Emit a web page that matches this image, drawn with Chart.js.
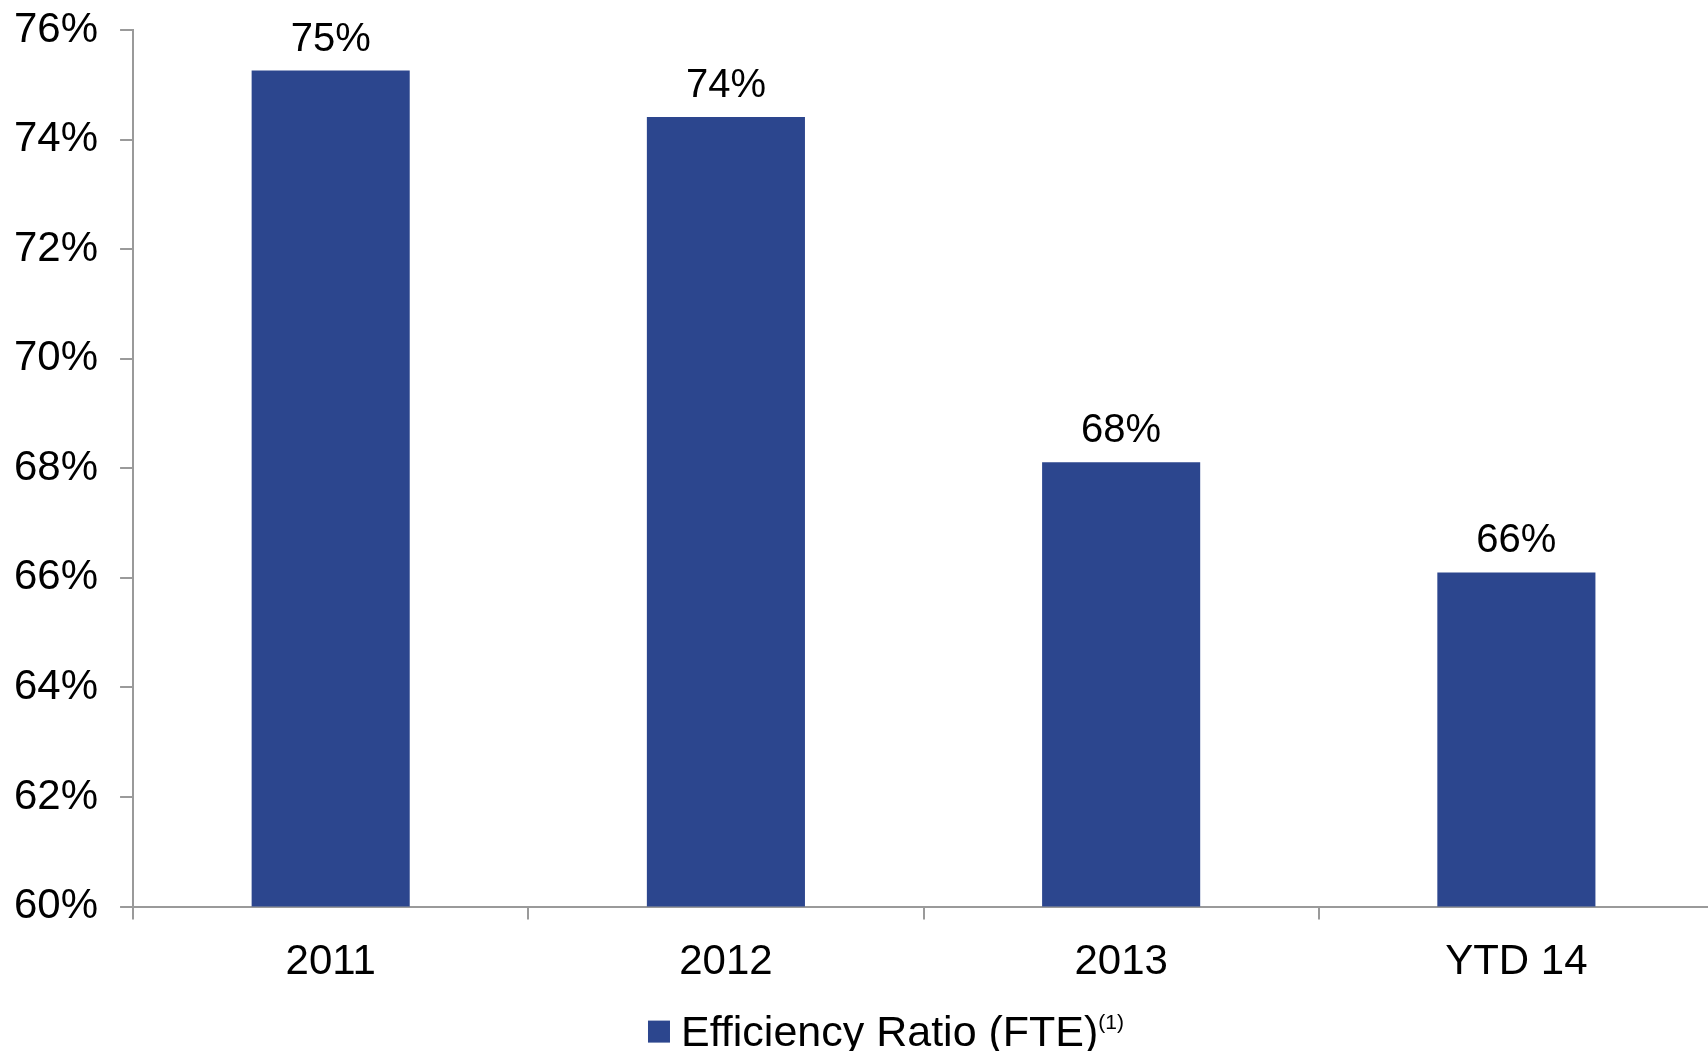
<!DOCTYPE html>
<html>
<head>
<meta charset="utf-8">
<script src="https://cdn.jsdelivr.net/npm/chart.js@4"></script>
<style>
  html, body { margin: 0; padding: 0; background: #ffffff; overflow: hidden; }
  #wrap { width: 1708px; height: 1051px; overflow: hidden; }
</style>
</head>
<body>
<div id="wrap"><canvas id="c" width="1714" height="1051"></canvas></div>
<script>
const categories = ['2011', '2012', '2013', 'YTD 14'];
const efficiencyRatio = [75.26, 74.41, 68.11, 66.10];
const seriesName = 'Efficiency Ratio (FTE)';
const seriesNote = '(1)';
const yMin = 60, yMax = 76, yStep = 2;

const FONT = "'Liberation Sans', 'DejaVu Sans', sans-serif";
const BAR = '#2C468E';
const AXIS = '#9a9a9a';

const valueLabels = {
  id: 'valueLabels',
  afterDatasetsDraw(chart) {
    const ctx = chart.ctx;
    const meta = chart.getDatasetMeta(0);
    ctx.save();
    ctx.font = '40px ' + FONT;
    ctx.fillStyle = '#000';
    ctx.textAlign = 'center';
    ctx.textBaseline = 'alphabetic';
    meta.data.forEach((bar, i) => {
      const v = chart.data.datasets[0].data[i];
      ctx.fillText(Math.round(v) + '%', bar.x, bar.y - 20);
    });
    ctx.restore();
  }
};

// legend with a real superscript note, drawn below the category axis
const noteLegend = {
  id: 'noteLegend',
  afterDraw(chart) {
    const ctx = chart.ctx;
    const ds = chart.data.datasets[0];
    const mainFont = '43px ' + FONT;
    const supFont = '21px ' + FONT;
    ctx.save();
    ctx.font = mainFont;
    const wMain = ctx.measureText(ds.label).width;
    ctx.font = supFont;
    const wSup = ctx.measureText(seriesNote).width;
    const box = 22, gap = 11;
    const total = box + gap + wMain + wSup;
    const baseline = chart.chartArea.bottom + 139;
    let x = chart.width / 2 + 29 - total / 2;
    ctx.fillStyle = ds.backgroundColor;
    ctx.fillRect(x, baseline - 25, box, box);
    x += box + gap;
    ctx.fillStyle = '#000';
    ctx.textAlign = 'left';
    ctx.textBaseline = 'alphabetic';
    ctx.font = mainFont;
    ctx.fillText(ds.label, x, baseline);
    x += wMain;
    ctx.font = supFont;
    ctx.fillText(seriesNote, x, baseline - 17);
    ctx.restore();
  }
};

new Chart(document.getElementById('c'), {
  type: 'bar',
  data: {
    labels: categories,
    datasets: [{
      label: seriesName,
      data: efficiencyRatio,
      backgroundColor: BAR,
      borderWidth: 0,
      barPercentage: 0.4,
      categoryPercentage: 1.0
    }]
  },
  options: {
    responsive: false,
    animation: false,
    devicePixelRatio: 1,
    layout: { padding: { top: 0, right: 0, left: -8, bottom: 45 } },
    scales: {
      x: {
        grid: { display: true, drawOnChartArea: false, drawTicks: true, tickLength: 13, color: AXIS, lineWidth: 2, offset: true },
        border: { display: true, color: AXIS, width: 2 },
        ticks: { color: '#000', font: { family: FONT, size: 42 }, padding: 18 }
      },
      y: {
        min: yMin, max: yMax,
        grid: { display: true, drawOnChartArea: false, drawTicks: true, tickLength: 13, color: AXIS, lineWidth: 2 },
        border: { display: true, color: AXIS, width: 2 },
        ticks: { stepSize: yStep, color: '#000', font: { family: FONT, size: 42 }, padding: 22,
                 callback: v => v + '%' },
        afterFit: (scale) => { scale.paddingTop = 30; scale.paddingBottom = 30; }
      }
    },
    plugins: {
      legend: { display: false },
      tooltip: { enabled: false }
    }
  },
  plugins: [valueLabels, noteLegend]
});
</script>
</body>
</html>
